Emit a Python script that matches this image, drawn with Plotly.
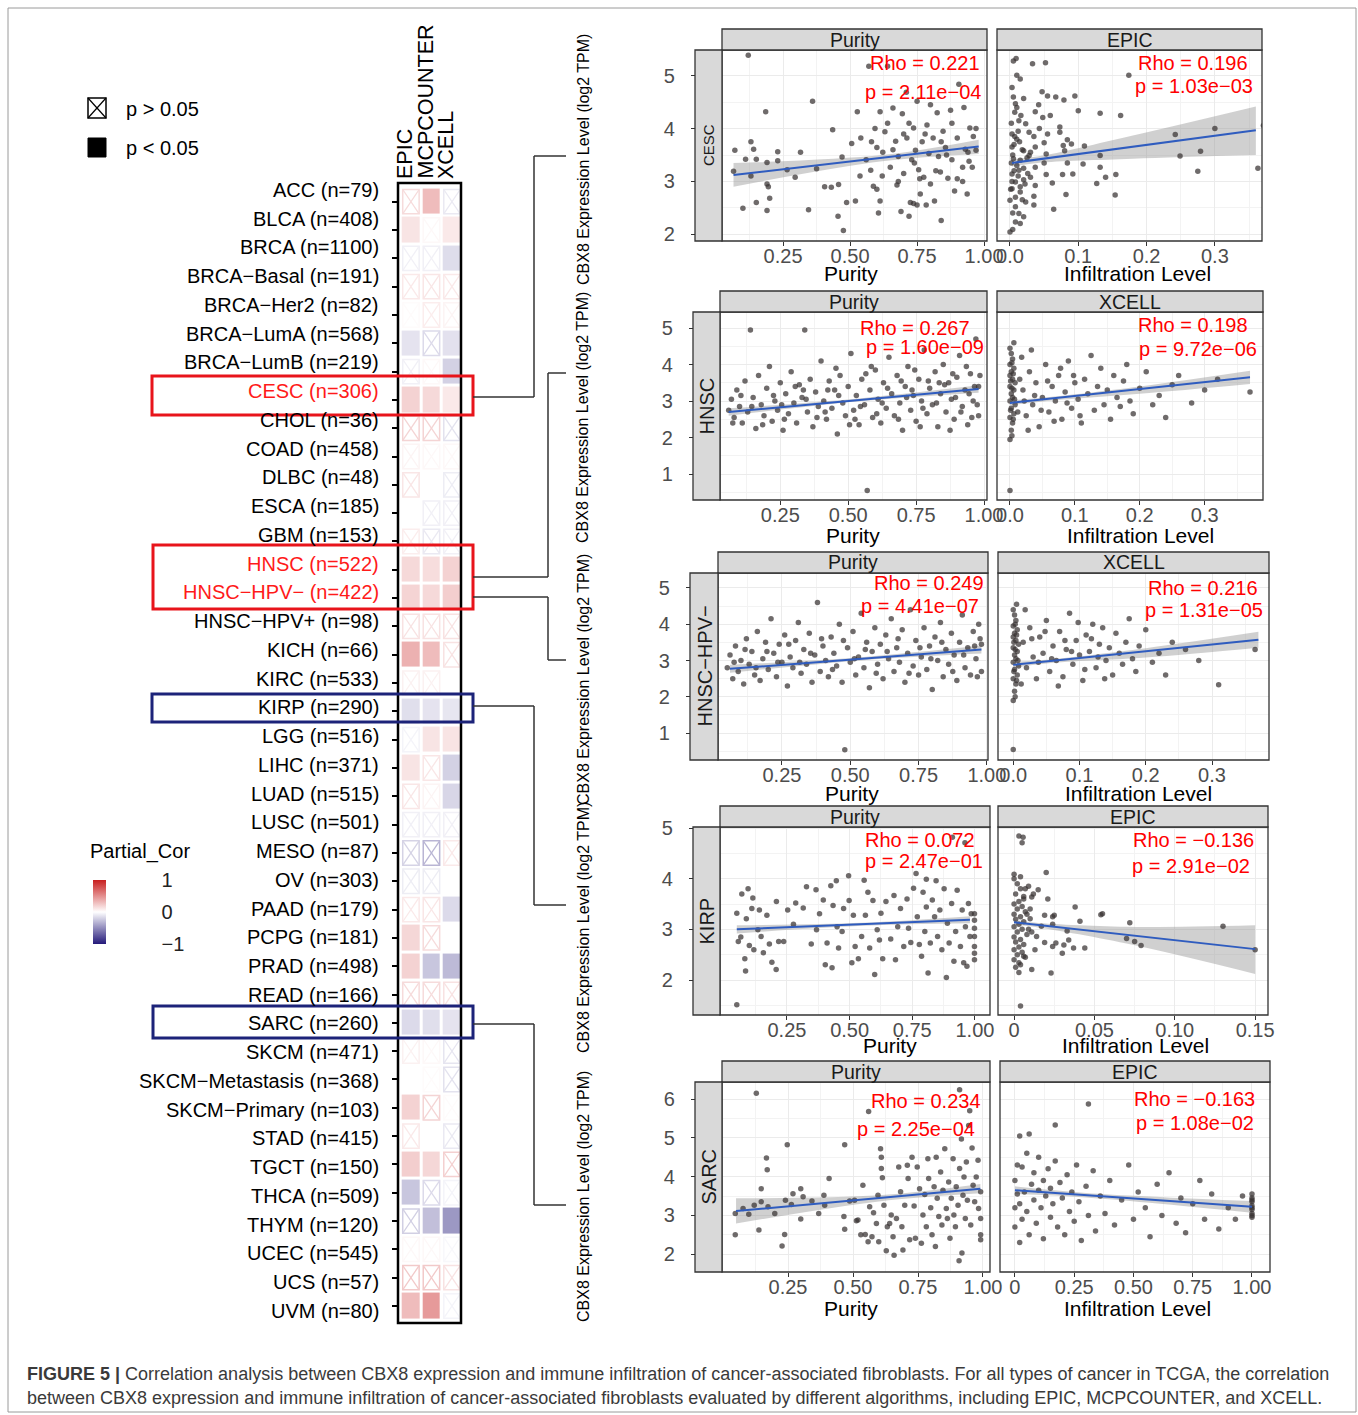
import plotly.graph_objects as go

W, H = 1358, 1415
def px(x): return x / W
def py(y): return 1 - y / H

M = "\u2212"
# ---------------- heatmap data ----------------
cancers = ["ACC (n=79)", "BLCA (n=408)", "BRCA (n=1100)", f"BRCA{M}Basal (n=191)", f"BRCA{M}Her2 (n=82)",
           f"BRCA{M}LumA (n=568)", f"BRCA{M}LumB (n=219)", "CESC (n=306)", "CHOL (n=36)", "COAD (n=458)",
           "DLBC (n=48)", "ESCA (n=185)", "GBM (n=153)", "HNSC (n=522)", f"HNSC{M}HPV{M} (n=422)",
           f"HNSC{M}HPV+ (n=98)", "KICH (n=66)", "KIRC (n=533)", "KIRP (n=290)", "LGG (n=516)",
           "LIHC (n=371)", "LUAD (n=515)", "LUSC (n=501)", "MESO (n=87)", "OV (n=303)",
           "PAAD (n=179)", "PCPG (n=181)", "PRAD (n=498)", "READ (n=166)", "SARC (n=260)",
           "SKCM (n=471)", f"SKCM{M}Metastasis (n=368)", f"SKCM{M}Primary (n=103)", "STAD (n=415)", "TGCT (n=150)",
           "THCA (n=509)", "THYM (n=120)", "UCEC (n=545)", "UCS (n=57)", "UVM (n=80)"]
epic_cor = [0.10, 0.12, -0.04, 0.06, 0.01, -0.12, -0.04, 0.20, 0.12, 0.03,
            0.07, 0.00, 0.05, 0.17, 0.19, 0.08, 0.35, 0.04, -0.14, -0.03,
            0.12, 0.07, -0.04, -0.12, -0.05, 0.06, 0.18, 0.20, 0.10, -0.16,
            0.04, 0.00, 0.20, 0.06, 0.22, -0.25, -0.13, 0.02, 0.15, 0.30]
mcp_cor = [0.30, 0.02, -0.04, 0.07, 0.05, -0.10, 0.02, 0.17, 0.12, 0.02,
           0.00, -0.04, -0.06, 0.15, 0.17, 0.08, 0.30, 0.04, -0.12, 0.12,
           0.07, 0.03, -0.04, -0.20, -0.05, 0.07, 0.10, -0.25, 0.10, -0.14,
           0.02, 0.01, 0.12, 0.00, 0.18, -0.10, -0.28, 0.02, 0.15, 0.45]
xcell_cor = [-0.06, 0.10, -0.15, 0.06, 0.03, -0.13, -0.20, 0.10, -0.08, 0.02,
             -0.05, -0.04, -0.04, 0.20, 0.22, 0.08, 0.08, 0.00, -0.11, 0.12,
             -0.20, -0.18, -0.04, 0.06, 0.00, -0.16, 0.00, -0.30, 0.08, -0.12,
             -0.07, -0.08, 0.01, -0.06, 0.13, -0.03, -0.45, -0.02, 0.08, -0.03]
epic_sig = [0, 1, 0, 0, 0, 1, 0, 1, 0, 0, 0, 0, 0, 1, 1, 0, 1, 0, 1, 0,
            1, 0, 0, 0, 0, 0, 1, 1, 0, 1, 0, 0, 1, 0, 1, 1, 0, 0, 0, 1]
mcp_sig = [1, 0, 0, 0, 0, 0, 0, 1, 0, 0, 0, 0, 0, 1, 1, 0, 1, 0, 1, 1,
           0, 0, 0, 0, 0, 0, 0, 1, 0, 1, 0, 0, 0, 0, 1, 0, 1, 0, 0, 1]
xcell_sig = [0, 1, 1, 0, 0, 1, 1, 1, 0, 0, 0, 0, 0, 1, 1, 0, 0, 0, 1, 1,
             1, 1, 0, 0, 0, 1, 0, 1, 0, 1, 0, 0, 0, 0, 0, 0, 1, 0, 0, 0]
methods = ["EPIC", "MCPCOUNTER", "XCELL"]
red_labels = ["CESC (n=306)", "HNSC (n=522)", f"HNSC{M}HPV{M} (n=422)"]

# ---------------- scatter data (purity / infiltration vs CBX8) ----------------
cesc_purity = [(0.12,5.39),(0.07,3.59),(0.065,3.19),(0.10,2.49),(0.11,3.42),(0.13,3.75),(0.14,3.61),(0.13,3.10),(0.15,2.60),(0.15,3.42),(0.185,4.32),(0.19,3.36),(0.19,2.95),(0.19,2.45),(0.195,2.90),(0.20,2.68),(0.23,3.56),(0.23,3.39),(0.265,3.22),(0.295,3.08),(0.315,3.55),(0.345,2.46),(0.36,4.52),(0.375,3.24),(0.405,2.90),(0.43,2.89),(0.435,3.98),(0.455,2.34),(0.457,2.94),(0.47,3.46),(0.475,2.07),(0.487,2.60),(0.506,3.72),(0.52,2.63),(0.527,4.32),(0.537,3.10),(0.54,3.82),(0.56,3.41),(0.57,5.18),(0.577,3.21),(0.587,2.91),(0.593,4.00),(0.60,3.64),(0.606,2.40),(0.612,4.32),(0.612,2.63),(0.622,3.55),(0.63,3.94),(0.64,5.18),(0.65,3.27),(0.66,4.39),(0.67,3.76),(0.675,2.93),(0.68,3.47),(0.69,2.43),(0.695,4.28),(0.70,3.15),(0.71,4.69),(0.712,3.82),(0.72,2.34),(0.725,2.60),(0.73,3.41),(0.737,4.01),(0.744,3.59),(0.75,4.52),(0.756,3.22),(0.762,2.76),(0.769,3.75),(0.775,3.08),(0.784,2.55),(0.787,4.07),(0.794,3.53),(0.80,2.95),(0.81,3.82),(0.815,2.63),(0.825,4.30),(0.83,3.47),(0.837,3.18),(0.84,2.26),(0.847,3.95),(0.856,3.64),(0.865,3.06),(0.875,4.35),(0.88,3.41),(0.89,2.82),(0.90,3.82),(0.906,4.84),(0.92,3.27),(0.925,4.40),(0.93,3.61),(0.937,2.76),(0.947,4.01),(0.956,3.27),(0.97,4.00),(0.97,3.59),(0.944,3.38),(0.737,2.58),(0.75,2.55),(0.58,3.75),(0.62,3.1),(0.66,3.6),(0.7,3.9),(0.74,3.35),(0.78,3.9),(0.82,3.2),(0.86,3.5),(0.9,3.05),(0.94,3.55),(0.6,2.85),(0.68,3.0),(0.76,3.05),(0.84,3.75),(0.92,3.0),(0.96,3.85),(0.64,4.1),(0.72,4.1),(0.8,4.45),(0.88,4.1)]
cesc_epic = [(0.005,5.28),(0.009,5.33),(0.033,5.23),(0.052,5.25),(0.174,5.01),(0.01,5.01),(0.015,4.94),(0.003,4.78),(0.047,4.70),(0.055,4.62),(0.067,4.60),(0.079,4.54),(0.095,4.62),(0.02,4.57),(0.042,4.45),(0.008,4.47),(0.037,4.32),(0.10,4.34),(0.132,4.29),(0.162,4.25),(0.059,4.25),(0.048,4.21),(0.007,4.31),(0.013,4.15),(0.023,4.09),(0.073,4.03),(0.073,3.93),(0.055,3.90),(0.084,3.79),(0.043,4.0),(0.035,3.85),(0.028,3.93),(0.003,3.90),(0.01,3.80),(0.242,3.89),(0.30,4.0),(0.371,4.06),(0.078,3.68),(0.09,3.71),(0.05,3.73),(0.037,3.65),(0.109,3.67),(0.08,3.58),(0.02,3.58),(0.003,3.65),(0.028,3.49),(0.053,3.52),(0.132,3.49),(0.249,3.48),(0.279,3.57),(0.015,3.40),(0.005,3.43),(0.05,3.35),(0.084,3.35),(0.107,3.33),(0.132,3.27),(0.363,3.25),(0.275,3.19),(0.037,3.27),(0.013,3.21),(0.003,3.14),(0.077,3.13),(0.092,3.14),(0.053,3.13),(0.14,3.08),(0.155,3.13),(0.03,3.08),(0.02,3.03),(0.008,2.99),(0.062,2.97),(0.127,2.96),(0.037,2.92),(0.003,2.86),(0.015,2.80),(0.082,2.75),(0.154,2.74),(0.035,2.72),(0.0,2.64),(0.023,2.61),(0.035,2.55),(0.008,2.52),(0.064,2.47),(0.013,2.39),(0.02,2.33),(0.008,2.23),(0.015,2.20),(0.004,2.09),(0.0,2.04),(0.005,4.6),(0.01,4.4),(0.002,4.1),(0.012,3.95),(0.006,3.7),(0.018,3.6),(0.004,3.5),(0.01,3.3),(0.02,3.25),(0.003,3.0),(0.015,2.9),(0.008,2.7),(0.025,3.45),(0.002,3.35),(0.012,3.1),(0.03,3.55),(0.007,3.85),(0.016,4.25),(0.001,2.85),(0.022,2.95),(0.006,3.2),(0.014,3.75),(0.004,2.4),(0.018,2.65),(0.026,3.15)]
hnsc_purity = [(0.06,2.75),(0.07,3.05),(0.08,2.55),(0.09,3.3),(0.1,2.85),(0.11,2.4),(0.12,3.55),(0.13,2.7),(0.14,4.95),(0.15,3.1),(0.16,2.25),(0.17,3.7),(0.18,2.9),(0.19,2.6),(0.2,3.35),(0.21,3.95),(0.22,2.45),(0.23,3.0),(0.24,2.75),(0.25,3.5),(0.26,2.2),(0.27,3.2),(0.28,2.65),(0.29,3.8),(0.3,2.95),(0.31,2.4),(0.32,3.45),(0.33,3.1),(0.34,4.95),(0.35,2.7),(0.36,3.6),(0.37,2.3),(0.38,3.25),(0.39,2.85),(0.4,4.1),(0.41,3.0),(0.42,2.5),(0.43,3.55),(0.44,2.8),(0.45,3.3),(0.46,2.1),(0.47,3.7),(0.48,2.95),(0.49,2.6),(0.5,3.4),(0.51,4.3),(0.52,2.75),(0.53,3.15),(0.54,2.35),(0.55,3.6),(0.56,2.9),(0.57,0.55),(0.58,3.3),(0.59,2.55),(0.6,3.85),(0.61,3.05),(0.62,2.4),(0.63,3.5),(0.64,2.8),(0.65,4.2),(0.66,3.2),(0.67,2.6),(0.68,3.7),(0.69,2.95),(0.7,2.2),(0.71,3.4),(0.72,3.95),(0.73,2.75),(0.74,3.15),(0.75,2.45),(0.76,3.6),(0.77,3.0),(0.78,4.4),(0.79,2.65),(0.8,3.35),(0.81,2.9),(0.82,3.8),(0.83,2.3),(0.84,3.2),(0.85,4.0),(0.86,2.7),(0.87,3.5),(0.88,3.05),(0.89,2.5),(0.9,3.65),(0.91,4.25),(0.92,2.85),(0.93,3.3),(0.94,2.35),(0.95,3.75),(0.96,3.0),(0.97,4.7),(0.98,2.6),(0.98,3.4),(0.255,2.9),(0.335,3.3),(0.415,2.7),(0.455,3.9),(0.525,2.5),(0.565,3.75),(0.605,2.65),(0.645,3.35),(0.685,2.5),(0.715,3.1),(0.745,3.85),(0.765,2.3),(0.795,3.55),(0.825,2.95),(0.855,3.45),(0.875,2.2),(0.895,3.1),(0.915,2.7),(0.935,3.95),(0.955,2.55),(0.965,3.4),(0.975,2.9),(0.985,3.7),(0.945,3.2),(0.885,3.75),(0.835,3.5),(0.775,2.8),(0.735,3.3),(0.695,3.55),(0.625,2.95),(0.585,3.95),(0.545,2.85),(0.505,2.35),(0.465,3.15),(0.425,3.3),(0.385,2.55),(0.345,3.05),(0.305,3.4),(0.265,2.5),(0.225,3.15),(0.185,2.35),(0.145,2.85),(0.105,3.15),(0.075,2.4)]
hnsc_xcell = [(0.0,1.95),(0.002,2.2),(0.004,2.4),(0.0,2.55),(0.006,2.65),(0.002,2.8),(0.008,2.9),(0.0,3.0),(0.004,3.1),(0.002,3.2),(0.006,3.3),(0.0,3.4),(0.008,3.5),(0.004,3.6),(0.0,3.7),(0.002,3.8),(0.006,3.9),(0.0,4.0),(0.004,4.15),(0.002,4.3),(0.0,4.45),(0.006,4.6),(0.003,2.05),(0.005,2.5),(0.001,2.75),(0.007,3.05),(0.003,3.35),(0.001,3.55),(0.005,3.75),(0.003,4.05),(0.0,0.55),(0.02,3.3),(0.025,2.6),(0.03,3.8),(0.035,2.9),(0.04,3.5),(0.045,2.3),(0.05,3.1),(0.055,4.0),(0.06,2.7),(0.065,3.4),(0.07,3.0),(0.075,3.7),(0.08,2.5),(0.085,3.25),(0.09,4.1),(0.095,2.8),(0.1,3.5),(0.105,3.05),(0.11,2.4),(0.115,3.6),(0.12,3.2),(0.125,4.25),(0.13,2.75),(0.135,3.4),(0.14,3.9),(0.145,2.9),(0.15,3.3),(0.155,2.5),(0.16,3.7),(0.165,3.1),(0.17,2.85),(0.175,3.55),(0.18,4.0),(0.185,3.0),(0.19,2.65),(0.2,3.35),(0.21,3.8),(0.22,2.9),(0.23,3.15),(0.24,2.55),(0.25,3.45),(0.26,3.7),(0.28,2.95),(0.3,3.3),(0.32,3.6),(0.37,3.25),(0.015,3.6),(0.012,2.7),(0.018,4.2),(0.022,3.0),(0.028,2.2),(0.033,4.4),(0.038,3.15),(0.048,2.75),(0.058,3.55),(0.068,2.45),(0.078,3.9),(0.088,2.95),(0.098,3.7),(0.108,2.6)]
hpvneg_purity = [(0.05,2.8),(0.06,3.15),(0.07,2.5),(0.08,3.4),(0.09,2.7),(0.1,3.0),(0.11,2.35),(0.12,3.6),(0.13,2.9),(0.14,3.25),(0.15,2.6),(0.16,3.8),(0.17,2.45),(0.18,3.05),(0.19,3.5),(0.2,2.75),(0.21,4.15),(0.22,3.2),(0.23,2.55),(0.24,3.45),(0.25,2.95),(0.26,3.7),(0.27,2.3),(0.28,3.1),(0.29,2.8),(0.3,3.55),(0.31,4.05),(0.32,2.65),(0.33,3.3),(0.34,2.9),(0.35,3.75),(0.36,2.4),(0.37,3.15),(0.38,4.6),(0.39,2.7),(0.4,3.4),(0.41,3.0),(0.42,2.55),(0.43,3.65),(0.44,3.2),(0.45,2.85),(0.46,4.0),(0.47,2.4),(0.48,0.54),(0.49,3.35),(0.5,2.95),(0.51,3.8),(0.52,2.6),(0.53,3.1),(0.54,4.3),(0.55,2.8),(0.56,3.5),(0.57,2.25),(0.58,3.25),(0.59,3.9),(0.6,2.9),(0.61,3.45),(0.62,2.5),(0.63,3.7),(0.64,3.05),(0.65,4.15),(0.66,2.7),(0.67,3.35),(0.68,2.95),(0.69,3.85),(0.7,2.4),(0.71,3.2),(0.72,4.4),(0.73,2.85),(0.74,3.55),(0.75,2.6),(0.76,3.1),(0.77,3.9),(0.78,2.75),(0.79,3.4),(0.8,2.2),(0.81,3.65),(0.82,3.0),(0.83,4.05),(0.84,2.55),(0.85,3.3),(0.86,2.9),(0.87,3.75),(0.88,3.15),(0.89,2.45),(0.9,3.5),(0.91,4.25),(0.92,2.8),(0.93,3.35),(0.94,2.6),(0.95,3.8),(0.96,3.05),(0.97,4.0),(0.98,2.7),(0.98,3.45),(0.075,2.95),(0.115,3.3),(0.155,2.8),(0.195,3.25),(0.235,2.95),(0.275,3.45),(0.315,2.95),(0.355,3.2),(0.395,3.6),(0.435,2.75),(0.475,3.55),(0.515,3.05),(0.555,3.3),(0.595,2.65),(0.635,3.25),(0.675,3.6),(0.715,2.65),(0.755,3.35),(0.795,3.05),(0.835,3.5),(0.875,2.7),(0.915,3.15),(0.955,3.4),(0.965,2.55),(0.975,3.6)]
hpvneg_xcell = [(0.0,1.9),(0.002,2.15),(0.004,2.35),(0.0,2.5),(0.006,2.6),(0.002,2.75),(0.008,2.85),(0.0,2.95),(0.004,3.05),(0.002,3.15),(0.006,3.25),(0.0,3.35),(0.008,3.45),(0.004,3.55),(0.0,3.65),(0.002,3.75),(0.006,3.85),(0.0,3.95),(0.004,4.1),(0.002,4.25),(0.0,4.4),(0.005,4.55),(0.003,2.0),(0.005,2.45),(0.001,2.7),(0.007,3.0),(0.003,3.3),(0.001,3.5),(0.005,3.7),(0.003,4.0),(0.0,0.55),(0.015,3.5),(0.02,2.8),(0.025,3.9),(0.03,3.1),(0.035,2.5),(0.04,3.65),(0.045,3.2),(0.05,4.1),(0.055,2.7),(0.06,3.4),(0.065,3.0),(0.07,3.8),(0.075,2.55),(0.08,3.3),(0.085,4.3),(0.09,2.9),(0.095,3.55),(0.1,3.15),(0.105,2.45),(0.11,3.7),(0.115,3.25),(0.12,4.0),(0.125,2.8),(0.13,3.45),(0.135,3.9),(0.14,3.0),(0.145,3.35),(0.15,2.6),(0.155,3.75),(0.16,3.2),(0.165,2.9),(0.17,3.5),(0.175,4.15),(0.18,3.05),(0.185,2.7),(0.19,3.4),(0.2,3.85),(0.21,2.95),(0.22,3.2),(0.23,2.6),(0.24,3.5),(0.26,3.3),(0.28,3.0),(0.31,2.33),(0.365,3.3),(0.012,2.35),(0.018,4.4),(0.028,3.6),(0.038,2.95),(0.048,3.8),(0.058,3.05),(0.068,2.3),(0.078,3.55),(0.088,3.25),(0.098,4.05),(0.108,2.75),(0.118,3.6),(0.128,3.1),(0.138,2.5)]
kirp_purity = [(0.05,1.51),(0.05,3.32),(0.056,2.76),(0.07,3.70),(0.082,2.42),(0.085,2.18),(0.066,2.85),(0.088,3.21),(0.095,3.80),(0.10,2.68),(0.11,3.41),(0.114,3.62),(0.118,2.60),(0.134,2.99),(0.14,3.38),(0.147,2.86),(0.156,2.54),(0.17,3.28),(0.18,2.71),(0.19,2.35),(0.207,2.21),(0.208,3.55),(0.217,2.76),(0.237,2.76),(0.253,3.38),(0.276,3.10),(0.285,3.52),(0.315,3.42),(0.328,3.84),(0.347,2.71),(0.366,3.78),(0.368,2.99),(0.38,3.31),(0.395,3.58),(0.403,2.30),(0.41,2.73),(0.425,3.86),(0.43,2.24),(0.434,3.47),(0.447,3.96),(0.45,3.05),(0.456,2.63),(0.47,2.96),(0.476,3.41),(0.496,4.06),(0.498,3.57),(0.509,2.34),(0.515,3.28),(0.522,2.66),(0.535,2.42),(0.548,2.86),(0.558,3.97),(0.563,3.28),(0.573,3.73),(0.58,2.63),(0.593,3.57),(0.60,2.11),(0.61,2.99),(0.619,2.79),(0.625,3.32),(0.632,2.42),(0.645,3.55),(0.664,2.81),(0.677,3.67),(0.683,2.40),(0.692,3.05),(0.703,3.41),(0.716,2.66),(0.729,3.60),(0.735,3.02),(0.744,2.74),(0.755,3.81),(0.765,4.10),(0.77,3.25),(0.778,2.70),(0.787,2.47),(0.793,3.73),(0.80,2.96),(0.806,3.44),(0.813,2.14),(0.822,2.73),(0.83,3.58),(0.839,3.25),(0.845,3.96),(0.851,2.86),(0.86,3.38),(0.868,2.60),(0.877,3.80),(0.886,2.05),(0.89,3.12),(0.897,2.73),(0.907,3.51),(0.916,2.37),(0.923,2.96),(0.929,3.77),(0.942,2.66),(0.949,3.38),(0.955,2.34),(0.962,3.05),(0.968,2.27),(0.974,3.51),(0.998,3.18),(0.998,3.02),(0.998,2.86),(0.998,2.66),(0.998,2.53),(0.998,2.40),(0.998,3.31),(0.985,3.31),(0.98,2.86),(0.96,4.71),(0.91,4.82),(0.806,3.99)]
kirp_epic = [(0.003,4.84),(0.0056,4.82),(0.005,4.71),(0.0,4.09),(0.004,4.04),(0.02,4.12),(0.007,3.80),(0.015,3.78),(0.021,3.60),(0.011,3.64),(0.038,3.44),(0.055,3.31),(0.054,3.29),(0.025,3.28),(0.024,3.25),(0.019,3.28),(0.041,3.16),(0.072,3.13),(0.13,3.06),(0.017,3.06),(0.024,3.10),(0.01,3.21),(0.033,2.97),(0.07,2.82),(0.075,2.76),(0.079,2.68),(0.034,2.79),(0.026,2.73),(0.019,2.74),(0.031,2.69),(0.024,2.66),(0.044,2.63),(0.037,2.63),(0.03,2.53),(0.011,2.21),(0.023,2.14),(0.004,1.49),(0.15,2.60),(0.014,2.86),(0.006,2.47),(0.003,2.34),(0.0,4.0),(0.002,3.9),(0.004,3.8),(0.001,3.7),(0.006,3.65),(0.003,3.55),(0.0,3.5),(0.005,3.45),(0.002,3.4),(0.007,3.35),(0.0,3.3),(0.004,3.25),(0.001,3.2),(0.006,3.15),(0.003,3.1),(0.0,3.05),(0.005,3.0),(0.002,2.95),(0.008,2.9),(0.0,2.85),(0.004,2.8),(0.001,2.75),(0.006,2.7),(0.003,2.65),(0.0,2.6),(0.005,2.55),(0.002,2.5),(0.007,2.45),(0.0,2.4),(0.004,2.3),(0.001,2.25),(0.003,2.15),(0.006,3.6),(0.008,3.3),(0.009,3.0),(0.01,3.4),(0.011,2.95),(0.012,3.7),(0.013,2.6),(0.009,3.85)]
sarc_purity = [(0.128,6.15),(0.047,3.05),(0.047,2.50),(0.077,3.18),(0.099,3.03),(0.12,3.26),(0.138,2.62),(0.147,3.69),(0.147,3.35),(0.167,4.48),(0.17,4.18),(0.173,3.22),(0.199,3.05),(0.227,2.21),(0.237,2.51),(0.24,3.39),(0.247,4.82),(0.263,3.28),(0.269,3.56),(0.299,3.69),(0.299,2.91),(0.308,3.48),(0.342,3.37),(0.368,3.05),(0.388,3.52),(0.391,3.26),(0.408,3.95),(0.465,2.97),(0.468,4.82),(0.468,2.64),(0.487,3.37),(0.513,2.86),(0.506,3.39),(0.519,2.88),(0.53,2.50),(0.538,3.78),(0.547,2.51),(0.558,2.32),(0.56,5.68),(0.564,3.22),(0.573,2.45),(0.579,3.07),(0.59,2.79),(0.596,3.52),(0.599,2.32),(0.606,4.72),(0.609,4.50),(0.609,4.21),(0.613,3.97),(0.619,3.26),(0.628,2.09),(0.632,2.71),(0.641,2.79),(0.647,3.01),(0.654,2.45),(0.658,1.97),(0.667,2.92),(0.676,4.25),(0.683,3.61),(0.688,2.71),(0.692,2.11),(0.699,3.26),(0.709,4.29),(0.712,3.95),(0.718,2.37),(0.727,4.50),(0.735,3.24),(0.74,2.41),(0.747,4.25),(0.756,3.69),(0.763,2.28),(0.769,3.01),(0.776,3.54),(0.782,2.71),(0.788,4.46),(0.791,3.95),(0.799,3.20),(0.804,2.50),(0.812,3.74),(0.817,2.20),(0.82,4.50),(0.824,3.44),(0.83,2.97),(0.837,4.12),(0.842,2.75),(0.846,3.65),(0.853,4.72),(0.859,3.18),(0.863,2.92),(0.868,3.86),(0.873,2.41),(0.878,3.44),(0.885,4.46),(0.888,3.01),(0.894,2.71),(0.897,3.74),(0.904,3.26),(0.908,1.83),(0.91,6.24),(0.91,4.21),(0.917,4.97),(0.919,2.03),(0.923,3.52),(0.927,3.99),(0.932,2.92),(0.936,4.38),(0.94,3.39),(0.945,5.32),(0.949,5.70),(0.953,2.75),(0.958,4.74),(0.962,3.78),(0.968,3.35),(0.974,3.99),(0.981,4.42),(0.983,3.18),(0.991,2.50),(0.991,2.37),(0.991,3.61),(0.991,2.92)]
sarc_epic = [(0.0,3.9),(0.01,4.3),(0.02,3.3),(0.03,4.25),(0.03,2.9),(0.04,3.6),(0.05,4.6),(0.05,3.1),(0.06,2.5),(0.07,3.8),(0.08,4.1),(0.08,3.4),(0.09,2.8),(0.1,3.65),(0.1,4.5),(0.11,3.2),(0.12,2.4),(0.12,3.9),(0.13,3.5),(0.14,4.2),(0.15,2.95),(0.15,3.7),(0.16,3.3),(0.17,4.4),(0.18,2.7),(0.19,3.85),(0.2,3.45),(0.21,2.5),(0.22,4.05),(0.23,3.1),(0.24,3.6),(0.25,2.85),(0.26,4.3),(0.27,3.35),(0.28,2.35),(0.31,5.87),(0.3,3.75),(0.31,3.0),(0.33,4.15),(0.34,2.6),(0.36,3.5),(0.38,3.05),(0.4,3.9),(0.42,2.75),(0.45,3.4),(0.48,4.3),(0.5,2.9),(0.52,3.6),(0.55,3.2),(0.57,2.45),(0.6,3.8),(0.62,3.0),(0.65,4.1),(0.68,2.8),(0.7,3.45),(0.72,2.55),(0.75,3.3),(0.78,3.9),(0.8,2.9),(0.83,3.55),(0.86,2.65),(0.9,3.2),(0.93,2.9),(0.96,3.5),(1.0,2.95),(1.0,3.05),(1.0,3.15),(1.0,3.25),(1.0,3.35),(1.0,3.45),(1.0,3.55),(1.0,3.0),(1.0,3.2),(1.0,3.4),(0.02,2.3),(0.06,5.1),(0.17,5.33),(0.0,3.2),(0.01,3.55),(0.0,2.7),(0.02,5.05)]

# regression fits (endpoints) and confidence band (x, lower, upper)
fits = {
    "cesc_purity": ([0.065, 0.98], [3.12, 3.66], [0.065, 0.62, 0.98], [2.90, 3.38, 3.52], [3.35, 3.50, 3.79]),
    "cesc_epic": ([0.003, 0.36], [3.35, 3.97], [0.003, 0.04, 0.18, 0.36], [3.28, 3.35, 3.43, 3.50], [3.42, 3.47, 3.87, 4.42]),
    "hnsc_purity": ([0.06, 0.98], [2.70, 3.33], [0.06, 0.55, 0.98], [2.60, 3.00, 3.23], [2.80, 3.08, 3.43]),
    "hnsc_xcell": ([0.0, 0.37], [2.95, 3.65], [0.0, 0.05, 0.2, 0.37], [2.88, 2.99, 3.20, 3.47], [3.02, 3.09, 3.40, 3.83]),
    "hpvneg_purity": ([0.06, 0.98], [2.77, 3.30], [0.06, 0.55, 0.98], [2.66, 3.01, 3.19], [2.88, 3.10, 3.41]),
    "hpvneg_xcell": ([0.0, 0.37], [2.88, 3.57], [0.0, 0.05, 0.2, 0.37], [2.80, 2.92, 3.08, 3.35], [2.96, 3.02, 3.34, 3.79]),
    "kirp_purity": ([0.05, 0.98], [3.00, 3.19], [0.05, 0.55, 0.98], [2.92, 3.07, 3.12], [3.08, 3.13, 3.26]),
    "kirp_epic": ([0.0, 0.15], [3.14, 2.61], [0.0, 0.01, 0.07, 0.15], [3.09, 3.06, 2.72, 2.12], [3.19, 3.14, 3.05, 3.08]),
    "sarc_purity": ([0.05, 0.99], [3.11, 3.69], [0.05, 0.6, 0.99], [2.79, 3.36, 3.57], [3.44, 3.52, 3.81]),
    "sarc_epic": ([0.0, 1.0], [3.65, 3.22], [0.0, 0.3, 1.0], [3.55, 3.46, 3.07], [3.75, 3.58, 3.37]),
}
rho_left = ["0.221", "0.267", "0.249", "0.072", "0.234"]
p_left = [f"2.11e{M}04", f"1.60e{M}09", f"4.41e{M}07", f"2.47e{M}01", f"2.25e{M}04"]
rho_right = ["0.196", "0.198", "0.216", f"{M}0.136", f"{M}0.163"]
p_right = [f"1.03e{M}03", f"9.72e{M}06", f"1.31e{M}05", f"2.91e{M}02", f"1.08e{M}02"]

# ---------------- helpers ----------------
FONT = "Liberation Sans, Arial, sans-serif"
NARROW = "Liberation Sans Narrow, Arial Narrow, Liberation Sans, sans-serif"
BLUE = (36, 25, 122); RED = (200, 31, 31)
def cs_color(v, boost=1.0):
    v = max(-1.0, min(1.0, v * boost))
    tgt = RED if v >= 0 else BLUE
    t = abs(v)
    r, g, b = (round(255 + (c - 255) * t) for c in tgt)
    return f"rgb({r},{g},{b})"

fig = go.Figure()
shapes, annos = [], []
def note(x, y, text, **kw):
    d = dict(x=px(x), y=py(y), xref="paper", yref="paper", text=text, showarrow=False,
             xanchor="center", yanchor="middle")
    d.update(kw)
    annos.append(d)

# ---------------- heatmap ----------------
n = len(cancers)
cols = [epic_cor, mcp_cor, xcell_cor]
sigs = [epic_sig, mcp_sig, xcell_sig]
z = [[cols[j][i] if sigs[j][i] else None for j in range(3)] for i in range(n)]
fig.add_trace(go.Heatmap(
    z=z, x=[0, 1, 2], y=list(range(n)), zmin=-1, zmax=1,
    colorscale=[[0, "rgb(36,25,122)"], [0.5, "#ffffff"], [1, "rgb(200,31,31)"]],
    xgap=3, ygap=3, hoverinfo="skip",
    colorbar=dict(x=px(93), xanchor="left", y=py(912), yanchor="middle",
                  lenmode="pixels", len=64, thicknessmode="pixels", thickness=13,
                  tickvals=[-1, 0, 1], ticktext=[f"{M}1", "0", "1"], ticks="outside",
                  ticklen=52, tickcolor="rgba(0,0,0,0)", outlinewidth=0, xpad=0, ypad=0,
                  tickfont=dict(family=FONT, size=20, color="#222"))))
for i in range(n):
    for j in range(3):
        if not sigs[j][i]:
            c = cs_color(cols[j][i], 1.6)
            x0, x1 = j - 0.5 + 0.1, j + 0.5 - 0.1
            y0, y1 = i - 0.5 + 0.07, i + 0.5 - 0.07
            shapes.append(dict(type="rect", xref="x", yref="y", x0=x0, x1=x1, y0=y0, y1=y1,
                               line=dict(color=c, width=1.5)))
            shapes.append(dict(type="line", xref="x", yref="y", x0=x0, x1=x1, y0=y0, y1=y1,
                               line=dict(color=c, width=1.3)))
            shapes.append(dict(type="line", xref="x", yref="y", x0=x0, x1=x1, y0=y1, y1=y0,
                               line=dict(color=c, width=1.3)))
shapes.append(dict(type="rect", xref="x domain", yref="y domain", x0=0, x1=1, y0=0, y1=1,
                   line=dict(color="black", width=2.5)))
fig.update_layout(
    xaxis=dict(domain=[px(398), px(461)], range=[-0.63, 2.44], showticklabels=False, ticks="",
               showgrid=False, zeroline=False, automargin=False, anchor="y", fixedrange=True),
    yaxis=dict(domain=[py(1323), py(183)], range=[39.6, -0.66], tickvals=list(range(n)),
               showticklabels=False, ticks="outside", ticklen=5, tickwidth=2, tickcolor="black",
               showgrid=False, zeroline=False, automargin=False, anchor="x", fixedrange=True))
# row labels (placed like the original composite) and column headers
for i, c in enumerate(cancers):
    col = "#ff1a1a" if c in red_labels else "black"
    note(381, 190 + i * 28.74, c, xanchor="right", font=dict(family=FONT, size=20, color=col))
for xh, m in zip([405, 425.5, 446], methods):
    note(xh, 181, m, textangle=-90, yanchor="bottom", font=dict(family=FONT, size=21.5, color="black"))

# legend p-values
shapes += [dict(type="rect", xref="paper", yref="paper", x0=px(88), x1=px(106), y0=py(118), y1=py(98),
                line=dict(color="black", width=1.5)),
           dict(type="line", xref="paper", yref="paper", x0=px(88), x1=px(106), y0=py(118), y1=py(98),
                line=dict(color="black", width=1.2)),
           dict(type="line", xref="paper", yref="paper", x0=px(88), x1=px(106), y0=py(98), y1=py(118),
                line=dict(color="black", width=1.2)),
           dict(type="rect", xref="paper", yref="paper", x0=px(88), x1=px(106), y0=py(157), y1=py(138),
                fillcolor="black", line=dict(color="black", width=1))]
note(124, 109, "p > 0.05", xanchor="left", font=dict(family=FONT, size=20, color="black"))
note(124, 148, "p < 0.05", xanchor="left", font=dict(family=FONT, size=20, color="black"))
note(88, 851, "Partial_Cor", xanchor="left", font=dict(family=FONT, size=20, color="black"))

# highlight boxes and connectors
def box(x0, y0, x1, y1, col):
    shapes.append(dict(type="rect", xref="paper", yref="paper", x0=px(x0), x1=px(x1), y0=py(y1), y1=py(y0),
                       line=dict(color=col, width=3)))
def seg(x0, y0, x1, y1):
    shapes.append(dict(type="line", xref="paper", yref="paper", x0=px(x0), x1=px(x1), y0=py(y0), y1=py(y1),
                       line=dict(color="#333333", width=1.5)))
REDB, NAVY = "#e8141b", "#1c2379"
box(152, 376, 473, 415, REDB)
box(153, 545, 473, 609, REDB)
box(152, 694, 473, 722, NAVY)
box(153, 1006, 473, 1038, NAVY)
seg(473, 397, 534, 397); seg(534, 397, 534, 156); seg(534, 156, 566, 156)
seg(473, 577, 548, 577); seg(548, 577, 548, 373); seg(548, 373, 566, 373)
seg(473, 597, 548, 597); seg(548, 597, 548, 660); seg(548, 660, 566, 660)
seg(473, 706, 534, 706); seg(534, 706, 534, 905); seg(534, 905, 566, 905)
seg(473, 1024, 534, 1024); seg(534, 1024, 534, 1205); seg(534, 1205, 566, 1205)

# ---------------- scatter panels ----------------
ROWS = [
    dict(tag="CESC", tagsize=15, sl=695, l0=722, l1=987, r0=997, r1=1262, top=50, bot=241,
         yr=[1.87, 5.49], yt=[2, 3, 4, 5], xlr=[0.022, 1.011], xrr=[-0.019, 0.369],
         xrt=[0, 0.1, 0.2, 0.3], xrl=["0.0", "0.1", "0.2", "0.3"], xrm=[0.05, 0.15, 0.25, 0.35],
         strip=("Purity", "EPIC"), ty=273, tlx=851, trx=1137, ylab=160,
         data=("cesc_purity", "cesc_epic"),
         pos=[(982, 63), (983, 92), (1250, 63), (1255, 86)]),
    dict(tag="HNSC", tagsize=20, sl=693, l0=720, l1=987, r0=997, r1=1263, top=312, bot=500,
         yr=[0.29, 5.44], yt=[1, 2, 3, 4, 5], xlr=[0.028, 1.011], xrr=[-0.02, 0.39],
         xrt=[0, 0.1, 0.2, 0.3], xrl=["0.0", "0.1", "0.2", "0.3"], xrm=[0.05, 0.15, 0.25, 0.35],
         strip=("Purity", "XCELL"), ty=535, tlx=853, trx=1140, ylab=418,
         data=("hnsc_purity", "hnsc_xcell"),
         pos=[(972, 328), (986, 347), (1250, 325), (1259, 349)]),
    dict(tag=f"HNSC{M}HPV{M}", tagsize=20, sl=690, l0=718, l1=988, r0=998, r1=1269, top=573, bot=760,
         yr=[0.26, 5.41], yt=[1, 2, 3, 4, 5], xlr=[0.016, 1.004], xrr=[-0.023, 0.386],
         xrt=[0, 0.1, 0.2, 0.3], xrl=["0.0", "0.1", "0.2", "0.3"], xrm=[0.05, 0.15, 0.25, 0.35],
         strip=("Purity", "XCELL"), ty=793, tlx=852, trx=1138, ylab=680,
         data=("hpvneg_purity", "hpvneg_xcell"),
         pos=[(986, 583), (981, 606), (1260, 588), (1265, 610)]),
    dict(tag="KIRP", tagsize=20, sl=693, l0=720, l1=990, r0=998, r1=1268, top=827, bot=1015,
         yr=[1.31, 5.02], yt=[2, 3, 4, 5], xlr=[-0.017, 1.06], xrr=[-0.01, 0.158],
         xrt=[0, 0.05, 0.10, 0.15], xrl=["0", "0.05", "0.10", "0.15"], xrm=[0.025, 0.075, 0.125],
         strip=("Purity", "EPIC"), ty=1045, tlx=890, trx=1135, ylab=928,
         data=("kirp_purity", "kirp_epic"),
         pos=[(977, 840), (985, 861), (1256, 840), (1252, 866)]),
    dict(tag="SARC", tagsize=20, sl=695, l0=722, l1=990, r0=1000, r1=1270, top=1082, bot=1272,
         yr=[1.54, 6.44], yt=[2, 3, 4, 5, 6], xlr=[-0.004, 1.027], xrr=[-0.063, 1.076],
         xrt=[0, 0.25, 0.5, 0.75, 1.0], xrl=["0", "0.25", "0.50", "0.75", "1.00"],
         xrm=[0.125, 0.375, 0.625, 0.875],
         strip=("Purity", "EPIC"), ty=1308, tlx=851, trx=1137, ylab=1197,
         data=("sarc_purity", "sarc_epic"),
         pos=[(983, 1101), (977, 1129), (1257, 1099), (1256, 1123)]),
]
panel_pts = dict(cesc_purity=cesc_purity, cesc_epic=cesc_epic, hnsc_purity=hnsc_purity,
                 hnsc_xcell=hnsc_xcell, hpvneg_purity=hpvneg_purity, hpvneg_xcell=hpvneg_xcell,
                 kirp_purity=kirp_purity, kirp_epic=kirp_epic, sarc_purity=sarc_purity, sarc_epic=sarc_epic)
TICKF = dict(family=FONT, size=20, color="#4d4d4d")
GRID, MINOR = "#ebebeb", "#f3f3f3"

for r, R in enumerate(ROWS):
    ymin_minor = [v + 0.5 for v in range(0, 7)]
    for s in range(2):
        k = 2 + 2 * r + s
        xa, ya = f"x{k}", f"y{k}"
        x0p, x1p = (R["l0"], R["l1"]) if s == 0 else (R["r0"], R["r1"])
        name = R["data"][s]
        pts = panel_pts[name]
        fx, fy, bx, blo, bhi = fits[name]
        fig.add_trace(go.Scatter(x=bx, y=blo, xaxis=xa, yaxis=ya, mode="lines",
                                 line=dict(width=0, shape="spline"), hoverinfo="skip", showlegend=False))
        fig.add_trace(go.Scatter(x=bx, y=bhi, xaxis=xa, yaxis=ya, mode="lines", fill="tonexty",
                                 fillcolor="rgba(150,150,150,0.45)", line=dict(width=0, shape="spline"),
                                 hoverinfo="skip", showlegend=False))
        fig.add_trace(go.Scatter(x=[p[0] for p in pts], y=[p[1] for p in pts], xaxis=xa, yaxis=ya,
                                 mode="markers", marker=dict(size=5.5, color="rgba(55,50,50,0.72)"),
                                 hoverinfo="skip", showlegend=False))
        fig.add_trace(go.Scatter(x=fx, y=fy, xaxis=xa, yaxis=ya, mode="lines",
                                 line=dict(color="#2f5cbf", width=2), hoverinfo="skip", showlegend=False))
        if s == 0:
            xt = [0.25, 0.5, 0.75, 1.0]; xl = ["0.25", "0.50", "0.75", "1.00"]
            xm = [0.125, 0.375, 0.625, 0.875]; xr = R["xlr"]
        else:
            xt, xl, xm, xr = R["xrt"], R["xrl"], R["xrm"], R["xrr"]
        fig.update_layout(**{
            f"xaxis{k}": dict(domain=[px(x0p), px(x1p)], range=xr, anchor=ya, tickvals=xt, ticktext=xl,
                              ticks="outside", ticklen=4, tickcolor="#333", tickfont=TICKF,
                              ticklabelstandoff=-7,
                              showgrid=True, gridcolor=GRID, gridwidth=1, zeroline=False, showline=False,
                              minor=dict(tickvals=xm, showgrid=True, gridcolor=MINOR, gridwidth=1, ticks=""),
                              fixedrange=True, automargin=False),
            f"yaxis{k}": dict(domain=[py(R["bot"]), py(R["top"])], range=R["yr"], tickvals=R["yt"],
                              showgrid=True, gridcolor=GRID, gridwidth=1, zeroline=False,
                              minor=dict(tickvals=ymin_minor, showgrid=True, gridcolor=MINOR, gridwidth=1, ticks=""),
                              fixedrange=True, automargin=False,
                              **(dict(anchor="free", position=px(R["sl"]), showline=True, linecolor="#333",
                                      linewidth=1.2, ticks="outside", ticklen=4, tickcolor="#333",
                                      tickfont=TICKF, ticklabelstandoff=12)
                                 if s == 0 else dict(anchor=xa, showticklabels=False, ticks=""))),
        })
        # panel border and top strip
        shapes.append(dict(type="rect", xref=f"{xa} domain", yref=f"{ya} domain", x0=0, x1=1, y0=0, y1=1,
                           line=dict(color="#333333", width=1.3), layer="above"))
        shapes.append(dict(type="rect", xref="paper", yref="paper", x0=px(x0p), x1=px(x1p),
                           y0=py(R["top"]), y1=py(R["top"] - 21), fillcolor="#d9d9d9",
                           line=dict(color="#333333", width=1.3)))
        note((x0p + x1p) / 2, R["top"] - 10.5, R["strip"][s], font=dict(family=FONT, size=19.5, color="#1a1a1a"))
        # stats
        rx, ry = R["pos"][2 * s]; qx, qy = R["pos"][2 * s + 1]
        rho = rho_left[r] if s == 0 else rho_right[r]
        pv = p_left[r] if s == 0 else p_right[r]
        note(rx, ry, f"Rho = {rho}", xanchor="right", font=dict(family=FONT, size=20, color="#ff0000"))
        note(qx, qy, f"p = {pv}", xanchor="right", font=dict(family=FONT, size=20, color="#ff0000"))
    # left strip
    shapes.append(dict(type="rect", xref="paper", yref="paper", x0=px(R["sl"]), x1=px(R["l0"]),
                       y0=py(R["bot"]), y1=py(R["top"]), fillcolor="#d9d9d9",
                       line=dict(color="#333333", width=1.3)))
    note((R["sl"] + R["l0"]) / 2, (R["top"] + R["bot"]) / 2, R["tag"], textangle=-90,
         font=dict(family=FONT, size=R["tagsize"], color="#1a1a1a"))
    # axis titles
    note(R["tlx"], R["ty"], "Purity", font=dict(family=FONT, size=21, color="black"))
    note(R["trx"], R["ty"], "Infiltration Level", font=dict(family=FONT, size=21, color="black"))
    note(583, R["ylab"], "CBX8 Expression Level (log2 TPM)", textangle=-90,
         font=dict(family=NARROW, size=16, color="black"))

# caption + frame
note(25, 1374, "<b>FIGURE 5 |</b> Correlation analysis between CBX8 expression and immune infiltration of "
               "cancer-associated fibroblasts. For all types of cancer in TCGA, the correlation",
     xanchor="left", font=dict(family=FONT, size=18, color="#3a3a3a"))
note(25, 1398, "between CBX8 expression and immune infiltration of cancer-associated fibroblasts evaluated "
               "by different algorithms, including EPIC, MCPCOUNTER, and XCELL.",
     xanchor="left", font=dict(family=FONT, size=18, color="#3a3a3a"))
shapes.append(dict(type="rect", xref="paper", yref="paper", x0=px(8), x1=px(1356), y0=py(1412), y1=py(8),
                   line=dict(color="#9a9a9a", width=1)))

fig.update_layout(template="none", width=W, height=H, autosize=False, margin=dict(l=0, r=0, t=0, b=0),
                  paper_bgcolor="white", plot_bgcolor="white", showlegend=False,
                  shapes=shapes, annotations=annos, font=dict(family=FONT))
fig.write_html("out.html")
